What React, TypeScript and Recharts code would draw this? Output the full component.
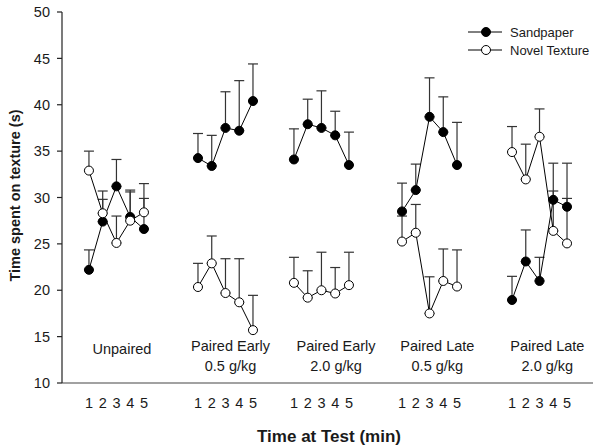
import React from 'react';
import { LineChart, Line, XAxis, YAxis, ErrorBar, ReferenceDot } from 'recharts';

// ---- data ----
const timePoints = [1, 2, 3, 4, 5];
const groupLine1 = ['Unpaired', 'Paired Early', 'Paired Early', 'Paired Late', 'Paired Late'];
const groupLine2 = ['', '0.5 g/kg', '2.0 g/kg', '0.5 g/kg', '2.0 g/kg'];
const seriesNames = ['Sandpaper', 'Novel Texture'];
const yTicks = [10, 15, 20, 25, 30, 35, 40, 45, 50];

const sandpaperMean = [
  [22.2, 27.4, 31.2, 27.9, 26.6],
  [34.25, 33.4, 37.5, 37.2, 40.4],
  [34.1, 37.9, 37.5, 36.7, 33.5],
  [28.5, 30.8, 38.7, 37.05, 33.5],
  [18.95, 23.1, 21.0, 29.75, 29.0],
];
const sandpaperSem = [
  [2.15, 3.3, 2.9, 2.9, 3.3],
  [2.65, 3.3, 3.9, 5.4, 4.0],
  [3.3, 2.7, 4.0, 2.6, 3.55],
  [3.05, 2.8, 4.2, 3.8, 4.6],
  [2.55, 3.4, 2.55, 3.95, 4.7],
];
const novelMean = [
  [32.9, 28.3, 25.1, 27.5, 28.4],
  [20.35, 22.9, 19.7, 18.7, 15.7],
  [20.8, 19.2, 20.0, 19.65, 20.55],
  [25.25, 26.2, 17.5, 21.0, 20.4],
  [34.9, 31.95, 36.55, 26.4, 25.05],
];
const novelSem = [
  [2.1, 1.5, 2.9, 3.1, 3.1],
  [2.55, 2.95, 3.7, 4.7, 3.75],
  [2.75, 2.9, 4.1, 2.8, 3.55],
  [2.75, 3.05, 3.95, 3.45, 3.95],
  [2.75, 3.8, 3.0, 4.3, 4.85],
];

// ---- layout (x units) ----
const groupStart = [1.96, 9.89, 16.87, 24.73, 32.73];
const labelCenter = [4.36, 12.26, 19.93, 27.3, 35.3];
const xDomain: [number, number] = [0, 38.62];
const FONT = '"Liberation Sans", Arial, sans-serif';
const TXT = '#1a1a1a';

const buildRows = (mean: number[][], sem: number[][], g: number) =>
  timePoints.map((t, i) => ({ x: groupStart[g] + i, t, y: mean[g][i], err: [0, sem[g][i]] }));

const tickPositions: number[] = [];
const tickLabelMap: Record<string, number> = {};
groupStart.forEach((s) =>
  timePoints.forEach((t, i) => {
    const v = +(s + i).toFixed(3);
    tickPositions.push(v);
    tickLabelMap[String(v)] = t;
  })
);

const YTitle = (props: any) => {
  const vb = props.viewBox || { x: 0, y: 0, width: 0, height: 0 };
  const cx = vb.x + 15;
  const cy = vb.y + vb.height / 2 - 2;
  return (
    <text
      x={cx}
      y={cy}
      transform={`rotate(-90 ${cx} ${cy})`}
      textAnchor="middle"
      dominantBaseline="central"
      fontFamily={FONT}
      fontWeight="bold"
      fontSize={14.5}
      fill={TXT}
    >
      Time spent on texture (s)
    </text>
  );
};

const XTitle = (props: any) => {
  const vb = props.viewBox || { x: 0, y: 0, width: 0, height: 0 };
  return (
    <text
      x={vb.x + vb.width / 2 + 1.5}
      y={vb.y + 59}
      textAnchor="middle"
      fontFamily={FONT}
      fontWeight="bold"
      fontSize={17}
      fill={TXT}
    >
      Time at Test (min)
    </text>
  );
};

const seriesDefs = [
  { name: seriesNames[0], mean: sandpaperMean, sem: sandpaperSem, fill: '#000' },
  { name: seriesNames[1], mean: novelMean, sem: novelSem, fill: '#fff' },
];

export default function App() {
  return (
    <div style={{ position: 'absolute', left: 0, top: 0, width: 608, height: 446, background: '#fff' }}>
      <LineChart
        width={608}
        height={446}
        margin={{ top: 12, right: 15, left: 0, bottom: 0 }}
        style={{ fontFamily: FONT }}
      >
        <XAxis
          dataKey="x"
          type="number"
          domain={xDomain}
          ticks={tickPositions}
          interval={0}
          allowDuplicatedCategory={false}
          tickFormatter={(v: number) => String(tickLabelMap[String(+(+v).toFixed(3))] ?? '')}
          tickLine={false}
          tickSize={6}
          tickMargin={9}
          height={63}
          axisLine={{ stroke: '#444', strokeWidth: 1.2 }}
          tick={{ fontSize: 14.5, fill: TXT, fontFamily: FONT }}
          label={<XTitle />}
        />
        <YAxis
          type="number"
          domain={[10, 50]}
          ticks={yTicks}
          interval={0}
          width={62}
          tickSize={5}
          tickMargin={7}
          axisLine={{ stroke: '#222', strokeWidth: 1.2 }}
          tickLine={{ stroke: '#222', strokeWidth: 1.2 }}
          tick={{ fontSize: 14.5, fill: TXT, fontFamily: FONT }}
          label={<YTitle />}
        />
        {seriesDefs.map((s, si) =>
          groupStart.map((_, g) => (
            <Line
              key={`${si}-${g}`}
              data={buildRows(s.mean, s.sem, g)}
              dataKey="y"
              name={s.name}
              type="linear"
              stroke="#000"
              strokeWidth={1}
              isAnimationActive={false}
              dot={{ r: 4.5, fill: s.fill, stroke: '#000', strokeWidth: 1 }}
              activeDot={false}
              legendType="none"
            >
              <ErrorBar dataKey="err" width={5} stroke="#333" strokeWidth={1.2} direction="y" />
            </Line>
          ))
        )}
        {groupLine1.map((txt, g) => (
          <ReferenceDot
            key={`l1-${g}`}
            x={labelCenter[g]}
            y={groupLine2[g] ? 13.96 : 13.64}
            r={1}
            fill="none"
            stroke="none"
            ifOverflow="visible"
            label={{ value: txt, position: 'center', fontSize: 14.5, fill: TXT, fontFamily: FONT }}
          />
        ))}
        {groupLine2.map((txt, g) =>
          txt ? (
            <ReferenceDot
              key={`l2-${g}`}
              x={labelCenter[g]}
              y={11.83}
              r={1}
              fill="none"
              stroke="none"
              ifOverflow="visible"
              label={{ value: txt, position: 'center', fontSize: 14.5, fill: TXT, fontFamily: FONT }}
            />
          ) : null
        )}
      </LineChart>
      <div style={{ position: 'absolute', left: 466, top: 23, fontFamily: FONT, fontSize: 13, color: TXT }}>
        {seriesDefs.map((s) => (
          <div key={s.name} style={{ display: 'flex', alignItems: 'center', height: 18 }}>
            <svg width={40} height={18} style={{ display: 'block' }}>
              <line x1={2} y1={9} x2={36} y2={9} stroke="#000" strokeWidth={1} />
              <circle cx={20} cy={9} r={4.5} fill={s.fill} stroke="#000" strokeWidth={1} />
            </svg>
            <span style={{ marginLeft: 4, whiteSpace: 'nowrap' }}>{s.name}</span>
          </div>
        ))}
      </div>
    </div>
  );
}
